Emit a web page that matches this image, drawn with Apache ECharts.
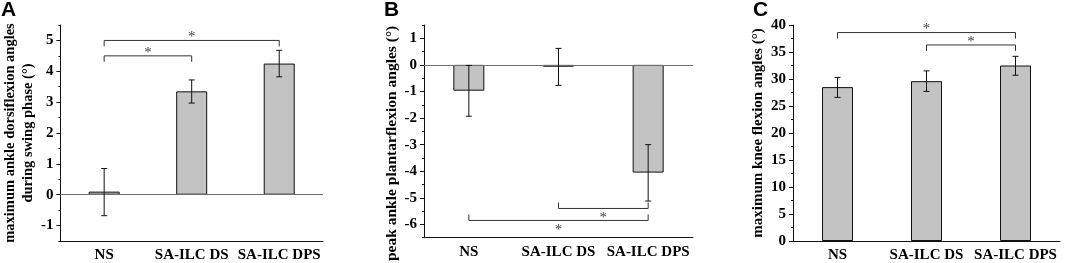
<!DOCTYPE html>
<html>
<head>
<meta charset="utf-8">
<script src="https://cdn.jsdelivr.net/npm/echarts@6/dist/echarts.min.js"></script>
<style>
html, body { margin: 0; padding: 0; background: #fff; }
#chart { width: 1065px; height: 263px; }
</style>
</head>
<body>
<div id="chart"></div>
<script>
var categories = ['NS', 'SA-ILC DS', 'SA-ILC DPS'];

// A: maximum ankle dorsiflexion angles during swing phase
var meanA = [0.1, 3.35, 4.25];
var lowA = [-0.68, 2.97, 3.82];
var highA = [0.85, 3.72, 4.68];
var sigA = [[0, 2, 5.0], [0, 1, 4.5]];
var ticksA = [-1, 0, 1, 2, 3, 4, 5];

// B: peak ankle plantarflexion angles
var meanB = [-0.97, -0.07, -4.05];
var lowB = [-1.93, -0.77, -5.12];
var highB = [-0.02, 0.62, -3.0];
var sigB = [[1, 2, -5.4], [0, 2, -5.85]];
var ticksB = [-6, -5, -4, -3, -2, -1, 0, 1];

// C: maximum knee flexion angles
var meanC = [28.5, 29.6, 32.5];
var lowC = [26.6, 27.7, 30.7];
var highC = [30.3, 31.5, 34.2];
var sigC = [[0, 2, 38.6], [1, 2, 36.3]];
var ticksC = [0, 5, 10, 15, 20, 25, 30, 35, 40];

var serif = 'Liberation Serif';
var ink = '#111';

var panels = [
    { letter: 'A', letterX: 1, left: 55, width: 268, min: -1.5, max: 5.5, ticks: ticksA, minorStep: 0.5,
      name: 'maximum ankle dorsiflexion angles\nduring swing phase (°)', nameGap: 14, nameSize: 14.5, namePad: 0,
      mean: meanA, low: lowA, high: highA, sig: sigA, dir: 1, zero: true, centerTickInside: false },
    { letter: 'B', letterX: 384, left: 424, width: 269, min: -6.5, max: 1.5, ticks: ticksB, minorStep: 0.5,
      name: 'peak ankle plantarflexion angles (°)', nameGap: 11, nameSize: 15.5, namePad: 24,
      mean: meanB, low: lowB, high: highB, sig: sigB, dir: -1, zero: true, centerTickInside: true },
    { letter: 'C', letterX: 753, left: 793, width: 267, min: 0, max: 40, ticks: ticksC, minorStep: 2.5,
      name: 'maximum knee flexion angles (°)', nameGap: 13, nameSize: 15, namePad: 0,
      mean: meanC, low: lowC, high: highC, sig: sigC, dir: 1, zero: false, centerTickInside: false }
];

function minorValues(p) {
    var out = [];
    for (var v = p.min; v <= p.max + 1e-9; v += p.minorStep) out.push(+v.toFixed(3));
    return out;
}

function renderErr(params, api) {
    var x = api.value(0);
    var lo = api.coord([x, api.value(1)]);
    var hi = api.coord([x, api.value(2)]);
    var hw = 3;
    var st = { stroke: ink, lineWidth: 1 };
    return {
        type: 'group',
        children: [
            { type: 'line', shape: { x1: lo[0], y1: lo[1], x2: hi[0], y2: hi[1] }, style: st },
            { type: 'line', shape: { x1: lo[0] - hw, y1: lo[1], x2: lo[0] + hw, y2: lo[1] }, style: st },
            { type: 'line', shape: { x1: hi[0] - hw, y1: hi[1], x2: hi[0] + hw, y2: hi[1] }, style: st }
        ]
    };
}

function makeBracket(dir) {
    return function (params, api) {
        var a = api.coord([api.value(0), api.value(2)]);
        var b = api.coord([api.value(1), api.value(2)]);
        var d = 6 * dir;
        var st = { stroke: '#333', lineWidth: 1, fill: null };
        return {
            type: 'group',
            children: [
                { type: 'polyline', shape: { points: [[a[0], a[1] + d], [a[0], a[1]], [b[0], b[1]], [b[0], b[1] + d]] }, style: st },
                { type: 'text', style: {
                    text: '*', x: (a[0] + b[0]) / 2, y: a[1] - (dir > 0 ? 3 : -10),
                    align: 'center', verticalAlign: 'middle',
                    fontFamily: serif, fontSize: 15, fill: '#444'
                } }
            ]
        };
    };
}

var option = {
    animation: false,
    title: [], grid: [], xAxis: [], yAxis: [], series: []
};

panels.forEach(function (p, i) {
    option.title.push({
        text: p.letter, left: p.letterX, top: 0, padding: 0,
        textStyle: { fontFamily: 'Liberation Sans', fontWeight: 'bold', fontSize: 21, color: '#000' }
    });
    option.grid.push({ left: p.left, top: 25, width: p.width, height: 216.5 });

    // main category axis
    option.xAxis[i] = {
        type: 'category', gridIndex: i, data: categories,
        axisLine: { onZero: false, lineStyle: { color: ink, width: 1 } },
        axisTick: { alignWithLabel: true, inside: p.centerTickInside, length: 3, lineStyle: { color: ink } },
        axisLabel: { interval: 0, margin: 7, color: '#000', fontFamily: serif, fontWeight: 'bold', fontSize: 15 }
    };
    // boundary ticks
    option.xAxis[i + 3] = {
        type: 'category', gridIndex: i, data: categories,
        axisLine: { show: false, onZero: false },
        axisTick: { inside: true, length: 3, lineStyle: { color: ink } },
        axisLabel: { show: false }
    };

    option.yAxis[i] = {
        type: 'value', gridIndex: i, position: 'left', min: p.min, max: p.max,
        name: p.name, nameLocation: 'middle', nameRotate: 90, nameGap: p.nameGap,
        nameTextStyle: { fontFamily: serif, fontWeight: 'bold', fontSize: p.nameSize, color: '#000', lineHeight: 18,
            align: 'center', padding: [0, p.namePad, 0, 0] },
        axisLine: { show: true, lineStyle: { color: ink, width: 1 } },
        axisTick: { show: true, length: 4, customValues: p.ticks, lineStyle: { color: ink } },
        axisLabel: { customValues: p.ticks, margin: 7, color: '#000', fontFamily: serif, fontWeight: 'bold', fontSize: 15 },
        splitLine: { show: false }
    };
    option.yAxis[i + 3] = {
        type: 'value', gridIndex: i, position: 'left', min: p.min, max: p.max,
        axisLine: { show: false },
        axisTick: { show: true, length: 2, customValues: minorValues(p), lineStyle: { color: ink } },
        axisLabel: { show: false },
        splitLine: { show: false }
    };

    var bar = {
        type: 'bar', xAxisIndex: i, yAxisIndex: i, data: p.mean, barWidth: 31,
        itemStyle: { color: '#c3c3c3', borderColor: ink, borderWidth: 1 },
        silent: true
    };
    if (p.zero) {
        bar.markLine = {
            silent: true, symbol: 'none', label: { show: false },
            lineStyle: { color: '#6e6e6e', width: 1, type: 'solid' },
            data: [{ yAxis: 0 }]
        };
    }
    option.series.push(bar);

    option.series.push({
        type: 'custom', xAxisIndex: i, yAxisIndex: i, silent: true, z: 5,
        renderItem: renderErr,
        encode: { x: 0, y: [1, 2] },
        data: p.mean.map(function (m, k) { return [k, p.low[k], p.high[k]]; })
    });

    option.series.push({
        type: 'custom', xAxisIndex: i, yAxisIndex: i, silent: true, z: 5,
        renderItem: makeBracket(p.dir),
        encode: { x: [0, 1], y: 2 },
        data: p.sig
    });
});

var chart = echarts.init(document.getElementById('chart'));
chart.setOption(option);
</script>
</body>
</html>
